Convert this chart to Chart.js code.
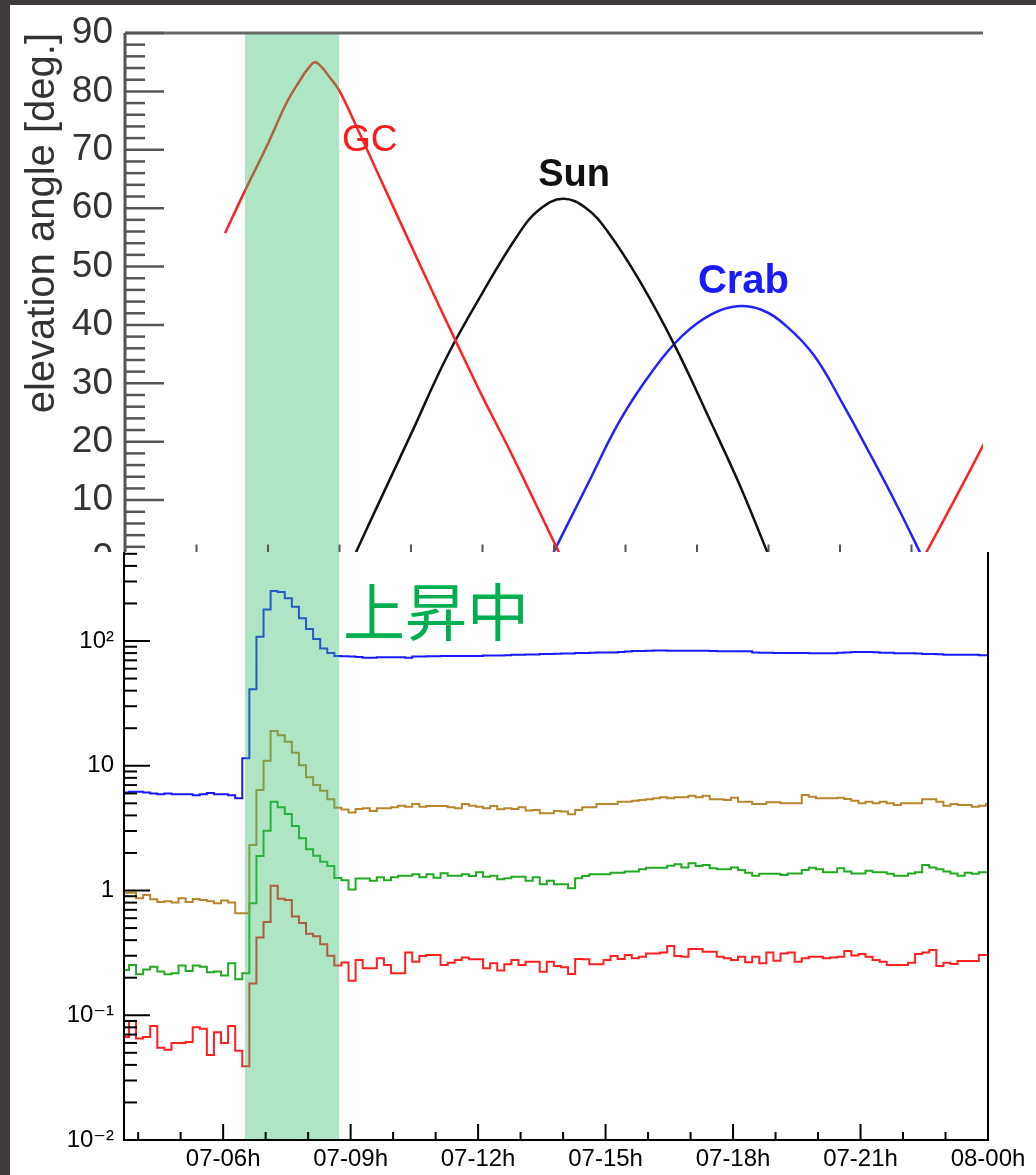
<!DOCTYPE html>
<html>
<head>
<meta charset="utf-8">
<script src="https://cdn.jsdelivr.net/npm/chart.js@4.4.1/dist/chart.umd.min.js"></script>
<style>
  html, body { margin: 0; padding: 0; }
  body { background: #3e3a3d; width: 1036px; height: 1175px; position: relative; overflow: hidden; }
  #sheet { position: absolute; left: 10px; top: 5px; width: 1026px; height: 1170px; background: #fff; }
  #topWrap { position: absolute; left: 0; top: 0; width: 983px; height: 552px; overflow: hidden; }
  #bottomWrap { position: absolute; left: 0; top: 552px; width: 1036px; height: 623px; }
  canvas { display: block; }
</style>
</head>
<body>
<div id="sheet"></div>
<div id="bottomWrap"><canvas id="rate-chart" width="1036" height="623"></canvas></div>
<div id="topWrap"><canvas id="elev-chart" width="1036" height="600"></canvas></div>
<script>
const FONT = '"Liberation Sans", Arial, Helvetica, "DejaVu Sans", sans-serif';

// ---- bottom panel: 10-minute count-rate histograms ----
const binStartHour = 3.617;   // first bin edge, 07-03:37
const binHours = 1 / 6;

const rateBlue = [
  6.1, 6.2, 6.2, 6.1, 6.0, 5.9, 6.0, 5.9, 5.9, 5.9, 5.8, 5.9, 6.05, 5.9, 5.9, 5.8, 5.5,
  11.5, 41, 108, 179, 252, 247, 220, 188, 152, 125, 104, 87, 80, 76,
  75.5, 75, 74.5, 73.5, 73.5, 74, 74, 74, 74, 73.5, 75, 75, 75.5, 75.5, 76, 76, 76, 76, 76, 76,
  76.5, 76.5, 76.5, 77, 77.5, 77.5, 78, 78, 78.5, 78.5, 79, 79.5, 79.5, 80, 80, 80.5, 81, 81, 81,
  81.5, 82.5, 83, 83, 83.5, 84, 84,
  83.6, 83.6, 83.6, 83.6, 83.6, 83.6, 83.3, 82.6, 82.6, 82.6, 82.6, 82.6, 81, 80.5, 80.5, 80.1,
  80.1, 80.1, 80.1, 80, 79.6, 79.6, 79.6, 79.6, 80.5, 81, 81.6, 81.6, 81.6, 81.2, 80.5, 80.5, 79.8,
  79.6, 79.6, 79.3, 78.7, 78.7, 78.2, 77.7, 77.7, 77.7, 77.7, 77.5, 76.8, 76.8,
];
const rateGold = [
  0.96, 0.96, 0.865, 0.92, 0.85, 0.81, 0.82, 0.80, 0.865, 0.81, 0.855, 0.84, 0.82, 0.79, 0.83, 0.80, 0.656, 0.656,
  2.32, 6.38, 10.98, 19.0, 17.6, 15.6, 12.7, 10.1, 8.07, 7.01, 6.31, 5.38, 4.6, 4.45, 4.22, 4.5,
  4.56, 4.34, 4.56, 4.56, 4.64, 4.79, 4.70, 4.94, 4.70, 4.76, 4.76, 4.76, 4.64, 4.56, 4.94, 4.79,
  4.70, 4.56, 4.76, 4.48, 4.56, 4.50, 4.64, 4.37, 4.42, 4.16, 4.16, 4.34, 4.29, 4.08, 4.42, 4.64,
  4.64, 4.94, 4.94, 4.94, 5.15, 5.15, 5.25, 5.31, 5.38, 5.48, 5.58, 5.5,
  5.58, 5.58, 5.76, 5.58, 5.76, 5.38, 5.38, 5.31, 5.55, 5.15, 5.15, 4.94, 4.94, 5.09, 5.09, 5.00,
  5.00, 5.00, 5.83, 5.64, 5.48, 5.48, 5.48, 5.55, 5.41, 5.25, 5.00, 5.15, 5.00, 5.15, 5.00, 4.85,
  5.00, 5.00, 5.00, 5.38, 5.38, 5.15, 4.79, 4.94, 4.85, 4.85, 4.70, 4.79, 4.94,
];
const rateGreen = [
  0.231, 0.253, 0.213, 0.233, 0.245, 0.224, 0.213, 0.217, 0.25, 0.226, 0.25, 0.245, 0.221, 0.224, 0.208, 0.261, 0.194, 0.217,
  0.79, 1.89, 3.01, 5.15, 4.64, 4.10, 3.29, 2.62, 2.14, 1.90, 1.70, 1.57, 1.26, 1.21, 1.02, 1.25,
  1.25, 1.20, 1.275, 1.21, 1.275, 1.316, 1.316, 1.349, 1.275, 1.349, 1.268, 1.374, 1.316, 1.316, 1.349, 1.307,
  1.40, 1.29, 1.316, 1.229, 1.252, 1.29, 1.29, 1.20, 1.275, 1.12, 1.20, 1.12, 1.12, 1.041, 1.252, 1.307,
  1.349, 1.349, 1.349, 1.39, 1.39, 1.417, 1.417, 1.479, 1.525, 1.525, 1.525, 1.58,
  1.62, 1.53, 1.65, 1.57, 1.60, 1.51, 1.48, 1.48, 1.53, 1.46, 1.39, 1.31, 1.36, 1.36, 1.36, 1.33,
  1.37, 1.37, 1.46, 1.525, 1.48, 1.40, 1.40, 1.51, 1.42, 1.37, 1.37, 1.44, 1.40, 1.40, 1.36, 1.316,
  1.316, 1.37, 1.40, 1.60, 1.53, 1.48, 1.42, 1.37, 1.31, 1.39, 1.36, 1.40, 1.40,
];
const rateRed = [
  0.067, 0.090, 0.065, 0.067, 0.082, 0.055, 0.053, 0.060, 0.060, 0.061, 0.080, 0.078, 0.048, 0.073, 0.060, 0.082, 0.052, 0.039,
  0.18, 0.42, 0.56, 1.09, 0.86, 0.84, 0.62, 0.55, 0.45, 0.43, 0.37, 0.30, 0.25, 0.265, 0.189, 0.277,
  0.238, 0.238, 0.286, 0.253, 0.217, 0.217, 0.318, 0.269, 0.299, 0.304, 0.304, 0.253, 0.264, 0.277, 0.29, 0.281,
  0.281, 0.238, 0.261, 0.228, 0.256, 0.277, 0.253, 0.269, 0.269, 0.223, 0.269, 0.248, 0.242, 0.214, 0.282, 0.281,
  0.256, 0.256, 0.277, 0.299, 0.282, 0.304, 0.286, 0.295, 0.313, 0.313, 0.318, 0.359,
  0.299, 0.295, 0.34, 0.34, 0.323, 0.323, 0.295, 0.286, 0.277, 0.295, 0.266, 0.295, 0.261, 0.318, 0.274, 0.313,
  0.318, 0.269, 0.286, 0.295, 0.295, 0.286, 0.291, 0.295, 0.327, 0.301, 0.31, 0.295, 0.277, 0.269, 0.253, 0.253,
  0.253, 0.264, 0.31, 0.318, 0.333, 0.248, 0.264, 0.258, 0.272, 0.272, 0.272, 0.304, 0.304,
];

const xMajorHours = [6, 9, 12, 15, 18, 21, 24];
const xMajorLabels = ['07-06h', '07-09h', '07-12h', '07-15h', '07-18h', '07-21h', '08-00h'];
const xMinorHours = [4, 5, 7, 8, 10, 11, 13, 14, 16, 17, 19, 20, 22, 23];
const yDecades = [0.01, 0.1, 1, 10, 100];
const yDecadeLabels = ['10⁻²', '10⁻¹', '1', '10', '10²'];
const risingBand = [6.514, 8.727];
const risingText = '上昇中';
const risingTextAt = [8.82, 168];

// ---- top panel: elevation angles (hours of the day, degrees) ----
const gcHours = [2.797, 3.357, 3.964, 4.523, 4.895, 5.119, 5.315, 5.51, 5.687, 5.986, 6.526, 7.16, 8.41, 9.17, 9.96, 10.74, 11.5, 12.22, 12.3, 22.32, 23.2, 24.03];
const gcDeg   = [55.7, 63.0, 70.6, 78.1, 81.9, 83.9, 85.0, 84.1, 82.7, 80.2, 73.3, 64.8, 48.2, 38.3, 28.2, 18.8, 9.2, 0, null, 0, 10.0, 19.7];
const sunHours = [6.38, 7.0, 8.0, 9.0, 10.0, 11.0, 11.6, 12.25, 12.9, 13.5, 14.4, 15.4, 16.4, 17.2, 18.04];
const sunDeg   = [0, 8.2, 21.3, 34.5, 45.5, 55.5, 59.8, 61.6, 60.0, 56.0, 47.5, 36.2, 23.2, 12.5, 0];
const crabHours = [11.90, 12.9, 13.85, 14.8, 15.6, 16.4, 17.11, 17.8, 18.5, 19.27, 20.05, 20.84, 21.6, 22.32];
const crabDeg   = [0, 12.2, 23.7, 32.5, 38.2, 41.8, 43.2, 42.6, 39.8, 34.8, 26.8, 17.9, 9.0, 0];
const sourceNames = ['GC', 'Sun', 'Crab'];
const sourceLabelHours = [6.07, 12.56, 17.30];
const sourceLabelDeg = [71.5, 65.6, 47.4];
const risingBandTop = [3.357, 5.986];
const topTickHours = [2, 4, 6, 8, 10, 12, 14, 16, 18, 20, 22];

const bandColor = 'rgba(52, 190, 110, 0.4)';

function toSteps(values) {
  const pts = values.map((v, i) => ({ x: binStartHour + i * binHours, y: v }));
  pts.push({ x: binStartHour + values.length * binHours, y: values[values.length - 1] });
  return pts;
}
function toPoints(xs, ys) {
  return xs.map((x, i) => ({ x, y: ys[i] }));
}
function stroke(ctx, x0, y0, x1, y1) {
  ctx.beginPath();
  ctx.moveTo(x0, y0);
  ctx.lineTo(x1, y1);
  ctx.stroke();
}

const bandPlugin = {
  id: 'band',
  afterDatasetsDraw(chart, args, opts) {
    const { ctx, chartArea: a, scales: { x } } = chart;
    const x0 = x.getPixelForValue(opts.from);
    const x1 = x.getPixelForValue(opts.to);
    ctx.save();
    ctx.fillStyle = opts.color;
    ctx.fillRect(x0, a.top, x1 - x0, a.bottom - a.top);
    ctx.restore();
  },
};

const rateFrame = {
  id: 'rateFrame',
  afterDraw(chart) {
    const { ctx, chartArea: a, scales: { x, y } } = chart;
    ctx.save();
    ctx.strokeStyle = '#000';
    ctx.lineWidth = 2;
    ctx.beginPath();
    ctx.moveTo(a.left, a.top);
    ctx.lineTo(a.left, a.bottom);
    ctx.lineTo(a.right, a.bottom);
    ctx.lineTo(a.right, a.top);
    ctx.stroke();
    yDecades.forEach((v) => { const p = y.getPixelForValue(v); stroke(ctx, a.left, p, a.left + 26, p); });
    for (let e = -2; e <= 2; e++) {
      for (let m = 2; m <= 9; m++) {
        const v = m * Math.pow(10, e);
        if (v > y.max) continue;
        const p = y.getPixelForValue(v);
        stroke(ctx, a.left, p, a.left + 13, p);
      }
    }
    xMajorHours.forEach((h) => { const p = x.getPixelForValue(h); stroke(ctx, p, a.bottom, p, a.bottom - 16); });
    xMinorHours.forEach((h) => { const p = x.getPixelForValue(h); stroke(ctx, p, a.bottom, p, a.bottom - 8); });
    ctx.font = '62px "Noto Sans CJK JP", "Noto Sans CJK SC", sans-serif';
    ctx.fillStyle = '#00b050';
    ctx.textAlign = 'left';
    ctx.textBaseline = 'middle';
    ctx.fillText(risingText, x.getPixelForValue(risingTextAt[0]), y.getPixelForValue(risingTextAt[1]));
    ctx.restore();
  },
};

const elevFrame = {
  id: 'elevFrame',
  afterDraw(chart) {
    const { ctx, chartArea: a, scales: { x, y } } = chart;
    ctx.save();
    ctx.strokeStyle = '#666';
    ctx.lineWidth = 3;
    stroke(ctx, a.left, a.top, a.right + 2, a.top);
    ctx.strokeStyle = '#555';
    stroke(ctx, a.left, a.top, a.left, a.bottom);
    ctx.lineWidth = 2.5;
    for (let d = 0; d <= 90; d += 2) {
      const p = y.getPixelForValue(d);
      stroke(ctx, a.left, p, a.left + (d % 10 === 0 ? 39 : 20), p);
    }
    ctx.lineWidth = 2;
    topTickHours.forEach((h) => { const p = x.getPixelForValue(h); stroke(ctx, p, a.bottom, p, a.bottom - 14); });

    const colors = ['#ff1a1a', '#111111', '#1a1aff'];
    const fonts = ['37px ' + FONT, 'bold 38px ' + FONT, 'bold 40px ' + FONT];
    sourceNames.forEach((name, i) => {
      ctx.font = fonts[i];
      ctx.fillStyle = colors[i];
      ctx.textAlign = i === 0 ? 'left' : 'center';
      ctx.textBaseline = 'middle';
      ctx.fillText(name, x.getPixelForValue(sourceLabelHours[i]), y.getPixelForValue(sourceLabelDeg[i]));
    });
    ctx.restore();
  },
};

const stepStyle = { borderWidth: 2, stepped: true, pointRadius: 0, fill: false };

new Chart(document.getElementById('rate-chart'), {
  type: 'line',
  data: {
    datasets: [
      { label: 'blue', data: toSteps(rateBlue), borderColor: '#1a1aff', ...stepStyle },
      { label: 'gold', data: toSteps(rateGold), borderColor: '#b8862e', ...stepStyle },
      { label: 'green', data: toSteps(rateGreen), borderColor: '#22aa22', ...stepStyle },
      { label: 'red', data: toSteps(rateRed), borderColor: '#ff2020', ...stepStyle },
    ],
  },
  options: {
    responsive: false,
    animation: false,
    layout: { padding: { left: 0, top: 0, right: 48, bottom: 0 } },
    plugins: {
      legend: { display: false },
      tooltip: { enabled: false },
      band: { from: risingBand[0], to: risingBand[1], color: bandColor },
    },
    scales: {
      x: {
        type: 'linear',
        min: 3.6667,
        max: 24,
        grid: { display: false, drawTicks: false },
        border: { display: false },
        afterBuildTicks: (s) => { s.ticks = xMajorHours.map((v) => ({ value: v })); },
        ticks: {
          autoSkip: false, maxRotation: 0, padding: 5, color: '#000',
          font: { family: FONT, size: 24 },
          callback: (v, i) => xMajorLabels[i],
        },
        afterFit: (s) => { s.height = 35; s.paddingLeft = 0; s.paddingRight = 0; },
      },
      y: {
        type: 'logarithmic',
        min: 0.01,
        max: 517,
        grid: { display: false, drawTicks: false },
        border: { display: false },
        afterBuildTicks: (s) => { s.ticks = yDecades.map((v) => ({ value: v })); },
        ticks: {
          padding: 10, color: '#000',
          font: { family: FONT, size: 24 },
          callback: (v, i) => yDecadeLabels[i],
        },
        afterFit: (s) => { s.width = 124; s.paddingTop = 0; s.paddingBottom = 0; },
      },
    },
  },
  plugins: [bandPlugin, rateFrame],
});

const curveStyle = { borderWidth: 2.5, pointRadius: 0, tension: 0.4, fill: false, spanGaps: false };

new Chart(document.getElementById('elev-chart'), {
  type: 'line',
  data: {
    datasets: [
      { label: 'GC', data: toPoints(gcHours, gcDeg), borderColor: '#ff2222', ...curveStyle },
      { label: 'Sun', data: toPoints(sunHours, sunDeg), borderColor: '#111111', ...curveStyle },
      { label: 'Crab', data: toPoints(crabHours, crabDeg), borderColor: '#2222ff', ...curveStyle },
    ],
  },
  options: {
    responsive: false,
    animation: false,
    layout: { padding: { left: 0, top: 33, right: 53, bottom: 41.5 } },
    plugins: {
      legend: { display: false },
      tooltip: { enabled: false },
      band: { from: risingBandTop[0], to: risingBandTop[1], color: bandColor },
    },
    scales: {
      x: { type: 'linear', min: 0, max: 24, display: false },
      y: {
        min: 0,
        max: 90,
        grid: { display: false, drawTicks: false },
        border: { display: false },
        ticks: { stepSize: 10, padding: 12, color: '#333', font: { family: FONT, size: 37 } },
        title: {
          display: true, text: 'elevation angle [deg.]', align: 'end', color: '#333',
          font: { family: FONT, size: 40 }, padding: { top: 19, bottom: 0 },
        },
        afterFit: (s) => { s.width = 125; s.paddingTop = 0; s.paddingBottom = 0; },
      },
    },
  },
  plugins: [bandPlugin, elevFrame],
});
</script>
</body>
</html>
